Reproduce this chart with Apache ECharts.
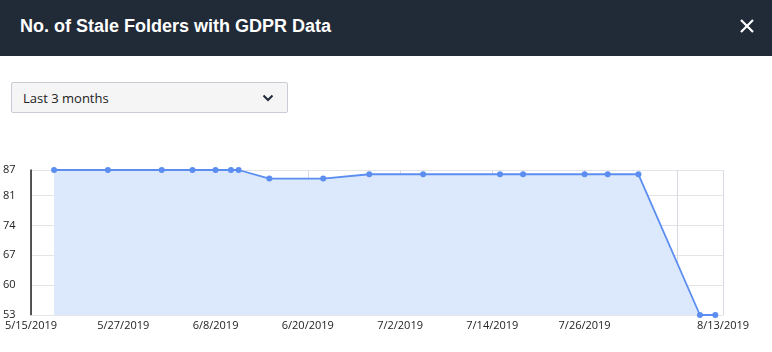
<!DOCTYPE html>
<html>
<head>
<meta charset="utf-8">
<script src="https://cdn.jsdelivr.net/npm/echarts@6/dist/echarts.min.js"></script>
<style>
  html, body { margin: 0; padding: 0; background: #ffffff; }
  body { width: 772px; height: 352px; position: relative; overflow: hidden; }
  .header {
    position: absolute; left: 0; top: 0; width: 772px; height: 56px;
    background: #212b38; z-index: 2;
  }
  .title {
    position: absolute; left: 20px; top: 16px;
    color: #ffffff; font: bold 18px "Liberation Sans", Arial, sans-serif;
  }
  .close {
    position: absolute; left: 739px; top: 18px; width: 16px; height: 16px;
  }
  .select {
    position: absolute; left: 11px; top: 82px; width: 277px; height: 31px;
    background: #f5f5f5; border: 1px solid #c9ccd4; border-radius: 2px;
    z-index: 2; box-sizing: border-box;
  }
  .select span {
    position: absolute; left: 11px; top: 6px;
    font: 13px "Open Sans", sans-serif; color: #222;
  }
  .select svg { position: absolute; left: 250px; top: 11px; }
  #chart { position: absolute; left: 0; top: 0; width: 772px; height: 352px; }
</style>
</head>
<body>
<div id="chart"></div>
<div class="header">
  <div class="title">No. of Stale Folders with GDPR Data</div>
  <svg class="close" viewBox="0 0 16 16"><path d="M2 2 L14 14 M14 2 L2 14" stroke="#ffffff" stroke-width="2.2" fill="none"/></svg>
</div>
<div class="select">
  <span>Last 3 months</span>
  <svg width="12" height="8" viewBox="0 0 12 8"><path d="M1.5 1.5 L6 6 L10.5 1.5" stroke="#1f2a3a" stroke-width="2" fill="none"/></svg>
</div>
<script>
const dates = [
  '2019-05-18', '2019-05-25', '2019-06-01', '2019-06-05', '2019-06-08',
  '2019-06-10', '2019-06-11', '2019-06-15', '2019-06-22', '2019-06-28',
  '2019-07-05', '2019-07-15', '2019-07-18', '2019-07-26', '2019-07-29',
  '2019-08-02', '2019-08-10', '2019-08-12',
]
const folders = [87, 87, 87, 87, 87, 87, 87, 85, 85, 86, 86, 86, 86, 86, 86, 86, 53, 53]
const xStart = '2019-05-15'
const xEnd = '2019-08-13'
const xStepDays = 12
const yTicks = [53, 60, 67, 74, 81, 87]

const DAY = 86400000
function ts(s) {
  const [y, m, d] = s.split('-').map(Number)
  return Date.UTC(y, m - 1, d)
}
function label(value) {
  const d = new Date(value)
  return `${d.getUTCMonth() + 1}/${d.getUTCDate()}/${d.getUTCFullYear()}`
}

const xMin = ts(xStart)
const xMax = ts(xEnd)
const step = xStepDays * DAY

const chart = echarts.init(document.getElementById('chart'), null, { renderer: 'canvas' })
chart.setOption({
  animation: false,
  grid: { left: 29, right: 49, top: 170, bottom: 37 },
  xAxis: {
    type: 'value',
    min: xMin,
    max: xMax,
    interval: step,
    axisLine: { show: true, lineStyle: { color: '#e6e6e6' } },
    axisTick: { show: false },
    axisLabel: {
      color: '#222',
      fontFamily: 'Open Sans',
      fontSize: 11,
      margin: 5,
      showMinLabel: true,
      showMaxLabel: true,
      // the tick just before the end is left unlabelled, as in the source
      formatter: (v) => (v !== xMax && v + step > xMax ? '' : label(v)),
    },
    splitLine: { show: true, lineStyle: { color: '#d9d9e3', width: 1 } },
  },
  yAxis: {
    type: 'value',
    min: yTicks[0],
    max: yTicks[yTicks.length - 1],
    interval: yTicks[1] - yTicks[0],
    axisLine: { show: true, lineStyle: { color: '#222', width: 1.5 } },
    axisTick: { show: false },
    axisLabel: {
      color: '#222',
      fontFamily: 'Open Sans',
      fontSize: 11,
      align: 'left',
      margin: 28,
      showMaxLabel: true,
    },
    splitLine: { show: true, lineStyle: { color: '#e4e4e8', width: 1 } },
  },
  series: [
    {
      type: 'line',
      data: dates.map((d, i) => [ts(d), folders[i]]),
      symbol: 'circle',
      symbolSize: 6,
      showSymbol: true,
      lineStyle: { color: '#5b8ef0', width: 1.8 },
      itemStyle: { color: '#5b8ef0' },
      areaStyle: { color: '#dce8fc', opacity: 1 },
    },
  ],
})
</script>
</body>
</html>
